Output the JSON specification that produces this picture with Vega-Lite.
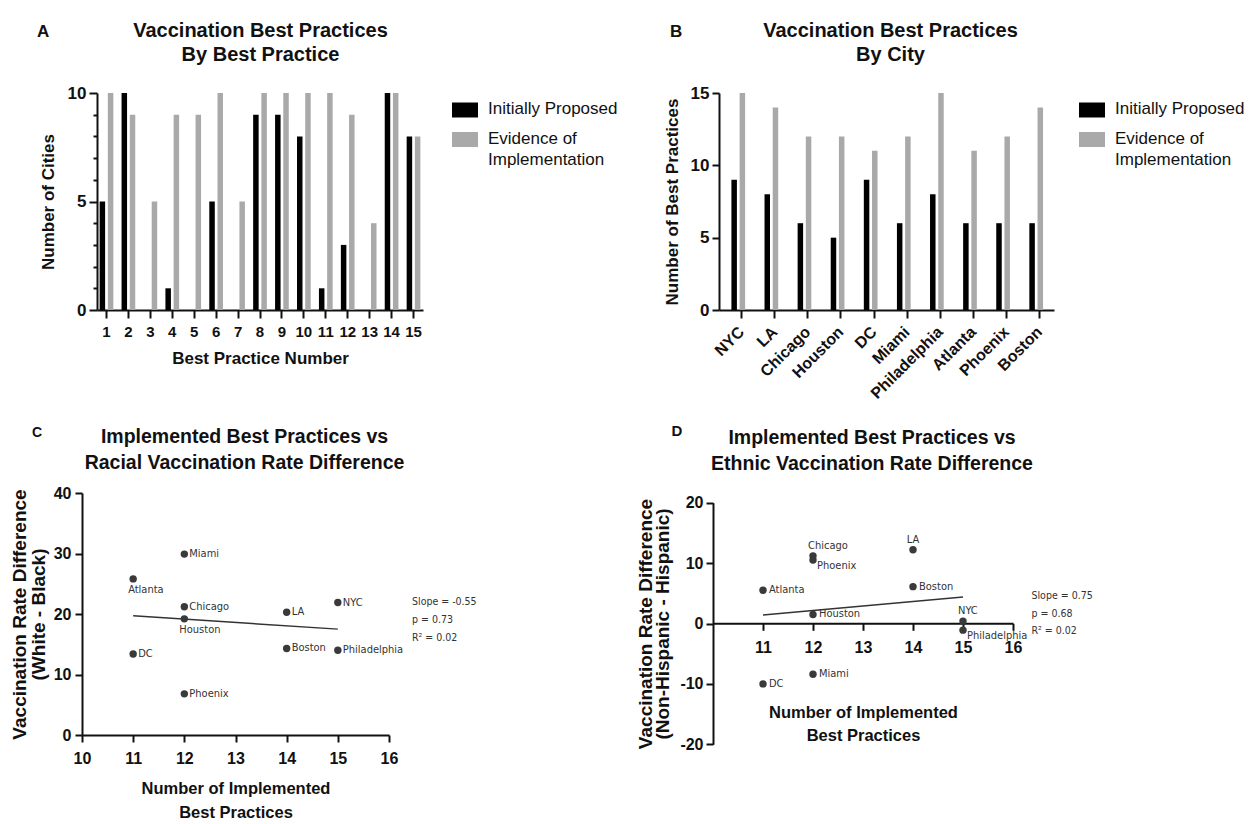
{
  "$schema": "https://vega.github.io/schema/vega-lite/v6.json",
  "background": "white",
  "padding": {"left": 10, "top": 21, "right": 0, "bottom": 0},
  "datasets": {
    "practice": [
      {"practice": 1, "series": "Initially Proposed", "count": 5},
      {"practice": 1, "series": "Evidence of Implementation", "count": 10},
      {"practice": 2, "series": "Initially Proposed", "count": 10},
      {"practice": 2, "series": "Evidence of Implementation", "count": 9},
      {"practice": 3, "series": "Initially Proposed", "count": 0},
      {"practice": 3, "series": "Evidence of Implementation", "count": 5},
      {"practice": 4, "series": "Initially Proposed", "count": 1},
      {"practice": 4, "series": "Evidence of Implementation", "count": 9},
      {"practice": 5, "series": "Initially Proposed", "count": 0},
      {"practice": 5, "series": "Evidence of Implementation", "count": 9},
      {"practice": 6, "series": "Initially Proposed", "count": 5},
      {"practice": 6, "series": "Evidence of Implementation", "count": 10},
      {"practice": 7, "series": "Initially Proposed", "count": 0},
      {"practice": 7, "series": "Evidence of Implementation", "count": 5},
      {"practice": 8, "series": "Initially Proposed", "count": 9},
      {"practice": 8, "series": "Evidence of Implementation", "count": 10},
      {"practice": 9, "series": "Initially Proposed", "count": 9},
      {"practice": 9, "series": "Evidence of Implementation", "count": 10},
      {"practice": 10, "series": "Initially Proposed", "count": 8},
      {"practice": 10, "series": "Evidence of Implementation", "count": 10},
      {"practice": 11, "series": "Initially Proposed", "count": 1},
      {"practice": 11, "series": "Evidence of Implementation", "count": 10},
      {"practice": 12, "series": "Initially Proposed", "count": 3},
      {"practice": 12, "series": "Evidence of Implementation", "count": 9},
      {"practice": 13, "series": "Initially Proposed", "count": 0},
      {"practice": 13, "series": "Evidence of Implementation", "count": 4},
      {"practice": 14, "series": "Initially Proposed", "count": 10},
      {"practice": 14, "series": "Evidence of Implementation", "count": 10},
      {"practice": 15, "series": "Initially Proposed", "count": 8},
      {"practice": 15, "series": "Evidence of Implementation", "count": 8}
    ],
    "city": [
      {"city": "NYC", "series": "Initially Proposed", "count": 9},
      {"city": "NYC", "series": "Evidence of Implementation", "count": 15},
      {"city": "LA", "series": "Initially Proposed", "count": 8},
      {"city": "LA", "series": "Evidence of Implementation", "count": 14},
      {"city": "Chicago", "series": "Initially Proposed", "count": 6},
      {"city": "Chicago", "series": "Evidence of Implementation", "count": 12},
      {"city": "Houston", "series": "Initially Proposed", "count": 5},
      {"city": "Houston", "series": "Evidence of Implementation", "count": 12},
      {"city": "DC", "series": "Initially Proposed", "count": 9},
      {"city": "DC", "series": "Evidence of Implementation", "count": 11},
      {"city": "Miami", "series": "Initially Proposed", "count": 6},
      {"city": "Miami", "series": "Evidence of Implementation", "count": 12},
      {"city": "Philadelphia", "series": "Initially Proposed", "count": 8},
      {"city": "Philadelphia", "series": "Evidence of Implementation", "count": 15},
      {"city": "Atlanta", "series": "Initially Proposed", "count": 6},
      {"city": "Atlanta", "series": "Evidence of Implementation", "count": 11},
      {"city": "Phoenix", "series": "Initially Proposed", "count": 6},
      {"city": "Phoenix", "series": "Evidence of Implementation", "count": 12},
      {"city": "Boston", "series": "Initially Proposed", "count": 6},
      {"city": "Boston", "series": "Evidence of Implementation", "count": 14}
    ],
    "racial": [
      {"city": "Atlanta", "implemented": 11, "diff": 25.8},
      {"city": "Miami", "implemented": 12, "diff": 29.9},
      {"city": "Chicago", "implemented": 12, "diff": 21.2},
      {"city": "Houston", "implemented": 12, "diff": 19.2},
      {"city": "DC", "implemented": 11, "diff": 13.4},
      {"city": "Phoenix", "implemented": 12, "diff": 6.8},
      {"city": "LA", "implemented": 14, "diff": 20.3},
      {"city": "Boston", "implemented": 14, "diff": 14.3},
      {"city": "NYC", "implemented": 15, "diff": 21.9},
      {"city": "Philadelphia", "implemented": 15, "diff": 14.0}
    ],
    "ethnic": [
      {"city": "Chicago", "implemented": 12, "diff": 11.2},
      {"city": "Phoenix", "implemented": 12, "diff": 10.5},
      {"city": "LA", "implemented": 14, "diff": 12.2},
      {"city": "Boston", "implemented": 14, "diff": 6.1},
      {"city": "Atlanta", "implemented": 11, "diff": 5.5},
      {"city": "Houston", "implemented": 12, "diff": 1.5},
      {"city": "NYC", "implemented": 15, "diff": 0.4},
      {"city": "Philadelphia", "implemented": 15, "diff": -1.1},
      {"city": "Miami", "implemented": 12, "diff": -8.4},
      {"city": "DC", "implemented": 11, "diff": -10.0}
    ],
    "fitC": [
      {"implemented": 11, "diff": 19.7},
      {"implemented": 15, "diff": 17.5}
    ],
    "fitD": [
      {"implemented": 11, "diff": 1.4},
      {"implemented": 15, "diff": 4.4}
    ],
    "statsC": [{"stat": "Slope = -0.55\np = 0.73\nR² = 0.02"}],
    "statsD": [{"stat": "Slope = 0.75\np = 0.68\nR² = 0.02"}]
  },
  "config": {
    "font": "Liberation Sans",
    "view": {"stroke": null},
    "axis": {
      "domainColor": "#111", "domainWidth": 2, "tickColor": "#111", "tickWidth": 2, "tickSize": 7,
      "labelColor": "#111", "titleColor": "#111", "labelFontWeight": "bold", "titleFontWeight": "bold",
      "labelFont": "Liberation Sans", "titleFont": "Liberation Sans", "grid": false
    },
    "title": {"color": "#111", "font": "Liberation Sans", "fontWeight": "bold"}
  },
  "spacing": 21,
  "resolve": {"legend": {"color": "independent"}},
  "vconcat": [
    {
      "spacing": 41,
      "resolve": {"legend": {"color": "independent"}},
      "hconcat": [
        {
          "title": {"text": "A", "anchor": "start", "frame": "bounds", "fontSize": 17, "offset": -20, "dx": -2},
          "resolve": {"legend": {"color": "independent"}},
          "vconcat": [
            {
              "data": {"name": "practice"},
              "width": 341,
              "height": 217,
              "title": {"text": ["Vaccination Best Practices", "By Best Practice"], "anchor": "middle", "frame": "group", "dx": 8, "fontSize": 20, "lineHeight": 24, "offset": 19},
              "mark": {"type": "bar"},
              "encoding": {
                "x": {
                  "field": "practice", "type": "ordinal",
                  "scale": {"range": [15, 341], "paddingInner": 0.375, "paddingOuter": 0.12},
                  "axis": {"title": "Best Practice Number", "labelAngle": 0, "labelFontSize": 15, "titleFontSize": 17, "tickSize": 8, "labelPadding": 6, "titlePadding": 11}
                },
                "xOffset": {"field": "series", "type": "nominal", "sort": ["Initially Proposed", "Evidence of Implementation"], "scale": {"paddingInner": 0.33, "paddingOuter": 0}},
                "y": {
                  "field": "count", "type": "quantitative",
                  "scale": {"domain": [0, 10], "nice": false},
                  "axis": {
                    "offset": -15, "values": [0, 1, 2, 3, 4, 5, 6, 7, 8, 9, 10],
                    "labelExpr": "datum.value % 5 === 0 ? datum.label : ''",
                    "tickSize": {"condition": {"test": "datum.value % 5 === 0", "value": 8}, "value": 4},
                    "title": "Number of Cities", "labelFontSize": 17, "titleFontSize": 17, "labelPadding": 3, "titlePadding": 10
                  }
                },
                "color": {
                  "field": "series", "type": "nominal",
                  "scale": {"domain": ["Initially Proposed", "Evidence of Implementation"], "range": ["#000000", "#a9a9a9"]},
                  "legend": {
                    "title": null, "offset": 25, "padding": 4,
                    "symbolType": "M-1,-0.577H1V0.577H-1Z", "symbolSize": 676, "symbolStrokeWidth": 0,
                    "labelFontSize": 17, "labelFontWeight": "normal", "labelColor": "#111", "labelOffset": 10, "labelLimit": 300,
                    "rowPadding": 8.5, "labelBaseline": "top",
                    "labelExpr": "datum.label == 'Evidence of Implementation' ? ['Evidence of', 'Implementation'] : datum.label",
                    "encode": {"labels": {"update": {"dy": {"value": -9}, "lineHeight": {"value": 21}}}}
                  }
                }
              }
            }
          ]
        },
        {
          "title": {"text": "B", "anchor": "start", "frame": "bounds", "fontSize": 17, "offset": -20, "dx": 7},
          "resolve": {"legend": {"color": "independent"}},
          "vconcat": [
            {
              "data": {"name": "city"},
              "width": 335,
              "height": 217,
              "title": {"text": ["Vaccination Best Practices", "By City"], "anchor": "middle", "frame": "group", "dx": 4, "fontSize": 20, "lineHeight": 24, "offset": 19},
              "mark": {"type": "bar"},
              "encoding": {
                "x": {
                  "field": "city", "type": "nominal", "sort": null,
                  "scale": {"paddingInner": 0.38, "paddingOuter": 0.25, "align": 0.75},
                  "axis": {"title": null, "labelAngle": -45, "labelAlign": "right", "labelBaseline": "middle", "labelFontSize": 16, "tickSize": 8, "labelPadding": 11}
                },
                "xOffset": {"field": "series", "type": "nominal", "sort": ["Initially Proposed", "Evidence of Implementation"], "scale": {"paddingInner": 0.325, "paddingOuter": 0}},
                "y": {
                  "field": "count", "type": "quantitative",
                  "scale": {"domain": [0, 15], "nice": false},
                  "axis": {"values": [0, 5, 10, 15], "title": "Number of Best Practices", "labelFontSize": 17, "titleFontSize": 17, "labelPadding": 3, "titlePadding": 9}
                },
                "color": {
                  "field": "series", "type": "nominal",
                  "scale": {"domain": ["Initially Proposed", "Evidence of Implementation"], "range": ["#000000", "#a9a9a9"]},
                  "legend": {
                    "title": null, "offset": 21, "padding": 4,
                    "symbolType": "M-1,-0.577H1V0.577H-1Z", "symbolSize": 676, "symbolStrokeWidth": 0,
                    "labelFontSize": 17, "labelFontWeight": "normal", "labelColor": "#111", "labelOffset": 10, "labelLimit": 300,
                    "rowPadding": 8.5, "labelBaseline": "top",
                    "labelExpr": "datum.label == 'Evidence of Implementation' ? ['Evidence of', 'Implementation'] : datum.label",
                    "encode": {"labels": {"update": {"dy": {"value": -9}, "lineHeight": {"value": 21}}}}
                  }
                }
              }
            }
          ]
        }
      ]
    },
    {
      "spacing": 159,
      "hconcat": [
        {
          "title": {"text": "C", "anchor": "start", "frame": "bounds", "fontSize": 14, "offset": -13, "dx": 21},
          "vconcat": [
            {
              "width": 307,
              "height": 242,
              "title": {"text": ["Implemented Best Practices vs", "Racial Vaccination Rate Difference"], "anchor": "middle", "frame": "group", "dx": 9, "fontSize": 19.5, "lineHeight": 26.7, "offset": 11},
              "layer": [
                {
                  "encoding": {
                    "x": {
                      "field": "implemented", "type": "quantitative",
                      "scale": {"domain": [10, 16], "nice": false, "zero": false},
                      "axis": {"values": [10, 11, 12, 13, 14, 15, 16], "labelFlush": false, "title": ["Number of Implemented", "Best Practices"], "labelFontSize": 16, "titleFontSize": 16.5, "titleLineHeight": 24, "labelPadding": 8, "titlePadding": 14}
                    },
                    "y": {
                      "field": "diff", "type": "quantitative",
                      "scale": {"domain": [0, 40], "nice": false, "zero": false},
                      "axis": {"values": [0, 10, 20, 30, 40], "labelFlush": false, "title": ["Vaccination Rate Difference", "(White - Black)"], "labelFontSize": 16, "titleFontSize": 19, "titleLineHeight": 18.3, "labelPadding": 4, "titlePadding": 5}
                    }
                  },
                  "layer": [
                    {"data": {"name": "fitC"}, "mark": {"type": "line", "color": "#333", "strokeWidth": 1.5}},
                    {"data": {"name": "racial"}, "mark": {"type": "circle", "size": 55, "color": "#3a3a3a", "opacity": 1}},
                    {
                      "data": {"name": "racial"},
                      "transform": [{"filter": "datum.city != 'Atlanta' && datum.city != 'Houston'"}],
                      "mark": {"type": "text", "align": "left", "baseline": "middle", "dx": 5, "font": "DejaVu Sans Condensed", "fontSize": 11, "color": "#333"},
                      "encoding": {"text": {"field": "city"}}
                    },
                    {
                      "data": {"name": "racial"},
                      "transform": [{"filter": "datum.city == 'Atlanta' || datum.city == 'Houston'"}],
                      "mark": {"type": "text", "align": "left", "baseline": "top", "dx": -5, "dy": 5, "font": "DejaVu Sans Condensed", "fontSize": 11, "color": "#333"},
                      "encoding": {"text": {"field": "city"}}
                    }
                  ]
                },
                {
                  "data": {"name": "statsC"},
                  "mark": {"type": "text", "align": "left", "baseline": "middle", "lineBreak": "\n", "lineHeight": 18, "font": "DejaVu Sans Condensed", "fontSize": 10.5, "color": "#333"},
                  "encoding": {
                    "x": {
                      "datum": 16.45, "type": "quantitative",
                      "scale": {"domain": [10, 16], "nice": false, "zero": false},
                      "axis": {"values": [10, 11, 12, 13, 14, 15, 16], "labelFlush": false, "title": ["Number of Implemented", "Best Practices"], "labelFontSize": 16, "titleFontSize": 16.5, "titleLineHeight": 24, "labelPadding": 8, "titlePadding": 14}
                    },
                    "y": {
                      "datum": 22, "type": "quantitative",
                      "scale": {"domain": [0, 40], "nice": false, "zero": false},
                      "axis": {"values": [0, 10, 20, 30, 40], "labelFlush": false, "title": ["Vaccination Rate Difference", "(White - Black)"], "labelFontSize": 16, "titleFontSize": 19, "titleLineHeight": 18.3, "labelPadding": 4, "titlePadding": 5}
                    },
                    "text": {"field": "stat", "type": "nominal"}
                  }
                }
              ]
            }
          ]
        },
        {
          "title": {"text": "D", "anchor": "start", "frame": "bounds", "fontSize": 15, "offset": -11, "dx": 35},
          "vconcat": [
            {
              "width": 300,
              "height": 251.3,
              "title": {"text": ["Implemented Best Practices vs", "Ethnic Vaccination Rate Difference"], "anchor": "middle", "frame": "group", "dx": 9, "fontSize": 19.5, "lineHeight": 26.7, "offset": 18},
              "layer": [
                {
                  "encoding": {
                    "x": {
                      "field": "implemented", "type": "quantitative",
                      "scale": {"domain": [10, 16], "nice": false, "zero": false},
                      "axis": {"offset": -121, "values": [11, 12, 13, 14, 15, 16], "labelFlush": false, "title": ["Number of Implemented", "Best Practices"], "labelFontSize": 16, "titleFontSize": 16.5, "titleLineHeight": 23, "labelPadding": 9, "titlePadding": 49}
                    },
                    "y": {
                      "field": "diff", "type": "quantitative",
                      "scale": {"domain": [-20, 20], "range": [251.3, 9.7], "nice": false, "zero": false},
                      "axis": {"values": [-20, -10, 0, 10, 20], "labelFlush": false, "labelExpr": "toString(datum.value)", "title": ["Vaccination Rate Difference", "(Non-Hispanic - Hispanic)"], "labelFontSize": 16, "titleFontSize": 19, "titleLineHeight": 17.5, "labelPadding": 3, "titlePadding": 7}
                    }
                  },
                  "layer": [
                    {"data": {"name": "fitD"}, "mark": {"type": "line", "color": "#333", "strokeWidth": 1.5}},
                    {"data": {"name": "ethnic"}, "mark": {"type": "circle", "size": 55, "color": "#3a3a3a", "opacity": 1}},
                    {
                      "data": {"name": "ethnic"},
                      "transform": [{"filter": "indexof(['Atlanta', 'Boston', 'Miami', 'DC', 'Houston'], datum.city) >= 0"}],
                      "mark": {"type": "text", "align": "left", "baseline": "middle", "dx": 6, "font": "DejaVu Sans Condensed", "fontSize": 11, "color": "#333"},
                      "encoding": {"text": {"field": "city"}}
                    },
                    {
                      "data": {"name": "ethnic"},
                      "transform": [{"filter": "datum.city == 'Phoenix' || datum.city == 'Philadelphia'"}],
                      "mark": {"type": "text", "align": "left", "baseline": "middle", "dx": 4, "dy": 6, "font": "DejaVu Sans Condensed", "fontSize": 11, "color": "#333"},
                      "encoding": {"text": {"field": "city"}}
                    },
                    {
                      "data": {"name": "ethnic"},
                      "transform": [{"filter": "datum.city == 'Chicago' || datum.city == 'NYC'"}],
                      "mark": {"type": "text", "align": "left", "baseline": "alphabetic", "dx": -5, "dy": -7, "font": "DejaVu Sans Condensed", "fontSize": 11, "color": "#333"},
                      "encoding": {"text": {"field": "city"}}
                    },
                    {
                      "data": {"name": "ethnic"},
                      "transform": [{"filter": "datum.city == 'LA'"}],
                      "mark": {"type": "text", "align": "center", "baseline": "alphabetic", "dy": -7, "font": "DejaVu Sans Condensed", "fontSize": 11, "color": "#333"},
                      "encoding": {"text": {"field": "city"}}
                    }
                  ]
                },
                {
                  "data": {"name": "statsD"},
                  "mark": {"type": "text", "align": "left", "baseline": "middle", "lineBreak": "\n", "lineHeight": 17.5, "font": "DejaVu Sans Condensed", "fontSize": 10.5, "color": "#333"},
                  "encoding": {
                    "x": {
                      "datum": 16.37, "type": "quantitative",
                      "scale": {"domain": [10, 16], "nice": false, "zero": false},
                      "axis": {"offset": -121, "values": [11, 12, 13, 14, 15, 16], "labelFlush": false, "title": ["Number of Implemented", "Best Practices"], "labelFontSize": 16, "titleFontSize": 16.5, "titleLineHeight": 23, "labelPadding": 9, "titlePadding": 49}
                    },
                    "y": {
                      "datum": 4.5, "type": "quantitative",
                      "scale": {"domain": [-20, 20], "range": [251.3, 9.7], "nice": false, "zero": false},
                      "axis": {"values": [-20, -10, 0, 10, 20], "labelFlush": false, "labelExpr": "toString(datum.value)", "title": ["Vaccination Rate Difference", "(Non-Hispanic - Hispanic)"], "labelFontSize": 16, "titleFontSize": 19, "titleLineHeight": 17.5, "labelPadding": 3, "titlePadding": 7}
                    },
                    "text": {"field": "stat", "type": "nominal"}
                  }
                }
              ]
            }
          ]
        }
      ]
    }
  ]
}
